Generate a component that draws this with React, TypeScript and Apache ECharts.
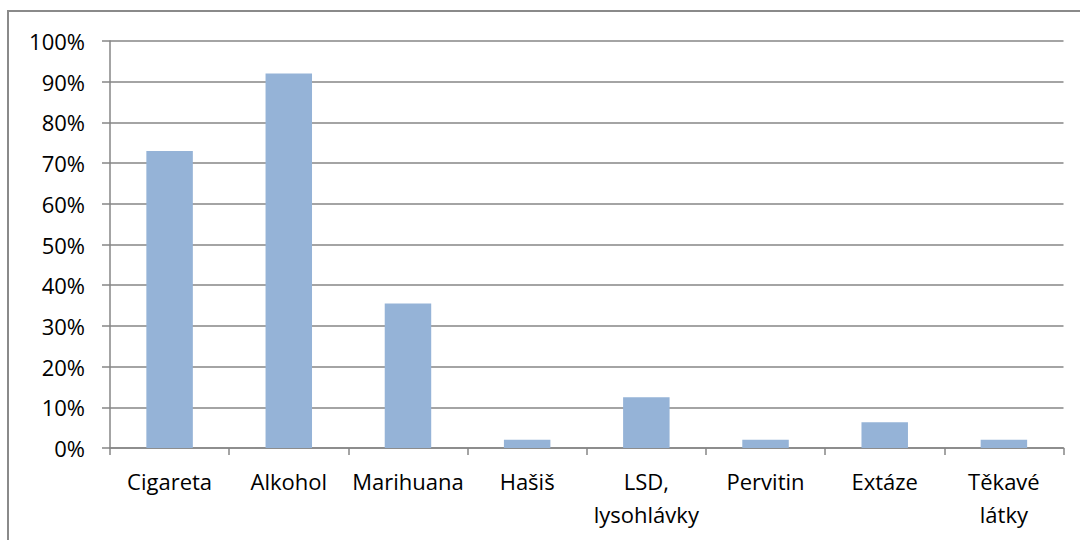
import React, { useEffect, useRef } from "react";
import * as echarts from "echarts";

const categories = ["Cigareta", "Alkohol", "Marihuana", "Hašiš", "LSD,\nlysohlávky", "Pervitin", "Extáze", "Těkavé\nlátky"];
const values = [73, 92, 35.5, 2, 12.5, 2, 6.3, 2];
const yTicks = [0, 10, 20, 30, 40, 50, 60, 70, 80, 90, 100];

export default function App() {
  const ref = useRef<HTMLDivElement>(null);
  useEffect(() => {
    if (!ref.current) return;
    const chart = echarts.init(ref.current, undefined, { renderer: "svg" });
    const font = "Open Sans";
    chart.setOption({
      animation: false,
      backgroundColor: "transparent",
      grid: { left: 110, right: 16.5, top: 41, bottom: 92, containLabel: false },
      xAxis: {
        type: "category",
        data: categories,
        axisLine: { lineStyle: { color: "#868686", width: 1.5 } },
        axisTick: { show: true, length: 7, alignWithLabel: false, lineStyle: { color: "#868686", width: 1.5 } },
        axisLabel: { interval: 0, color: "#000", fontFamily: font, fontSize: 22, margin: 16, lineHeight: 33 },
      },
      yAxis: {
        type: "value",
        min: 0,
        max: 100,
        interval: 10,
        axisLine: { show: true, lineStyle: { color: "#868686", width: 1.5 } },
        axisTick: { show: true, length: 8, lineStyle: { color: "#868686", width: 1.5 } },
        splitLine: { show: true, lineStyle: { color: "#868686", width: 1.5 } },
        axisLabel: {
          color: "#000",
          fontFamily: font,
          fontSize: 22,
          margin: 25,
          formatter: (v: number) => (yTicks.includes(v) ? v + "%" : ""),
        },
      },
      series: [
        {
          type: "bar",
          data: values,
          barWidth: "39%",
          itemStyle: { color: "#95B3D7" },
        },
      ],
    });
    return () => chart.dispose();
  }, []);
  return (
    <div style={{ position: "fixed", left: 0, top: 0, width: 1080, height: 540, background: "#fff", overflow: "hidden" }}>
      <div
        style={{
          position: "absolute",
          left: 7,
          top: 10,
          width: 1200,
          height: 700,
          borderLeft: "2px solid #8a8a8a",
          borderTop: "2px solid #8a8a8a",
          boxSizing: "border-box",
        }}
      />
      <div ref={ref} style={{ position: "absolute", left: 0, top: 0, width: 1080, height: 540 }} />
    </div>
  );
}
